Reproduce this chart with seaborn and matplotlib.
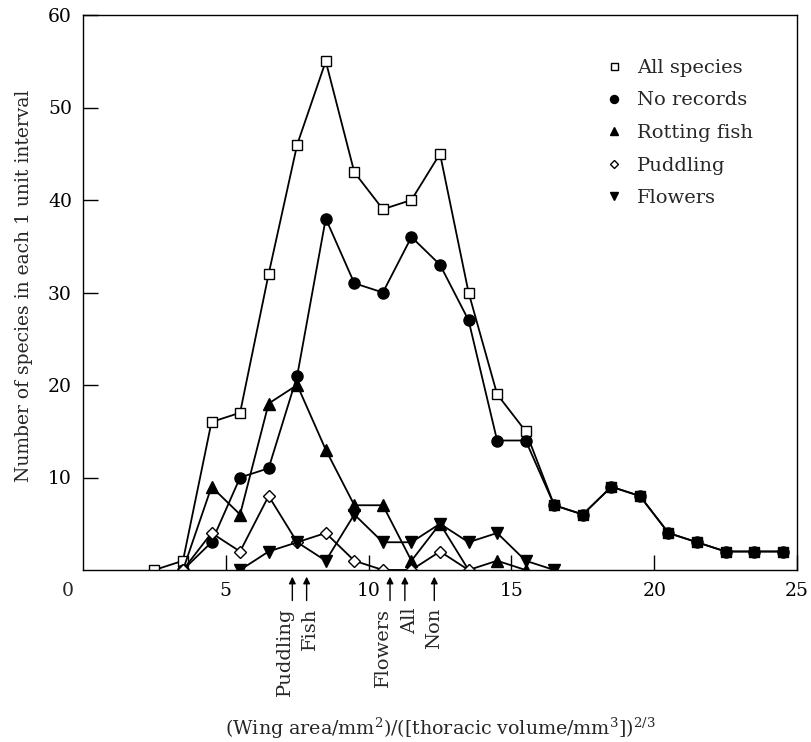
import numpy as np
import pandas as pd
import seaborn as sns
import matplotlib.pyplot as plt
from matplotlib.lines import Line2D

# counts per 1-unit interval, plotted at the interval centres
all_x = np.arange(2.5, 25, 1)
all_species = [0, 1, 16, 17, 32, 46, 55, 43, 39, 40, 45, 30, 19, 15, 7, 6, 9, 8, 4, 3, 2, 2, 2]

none_x = np.arange(3.5, 25, 1)
no_records = [0, 3, 10, 11, 21, 38, 31, 30, 36, 33, 27, 14, 14, 7, 6, 9, 8, 4, 3, 2, 2, 2]

fish_x = np.arange(3.5, 16, 1)
rotting_fish = [0, 9, 6, 18, 20, 13, 7, 7, 1, 5, 0, 1, 0]

puddle_x = np.arange(3.5, 14, 1)
puddling = [0, 4, 2, 8, 3, 4, 1, 0, 0, 2, 0]

flower_x = np.arange(5.5, 17, 1)
flowers = [0, 2, 3, 1, 6, 3, 3, 5, 3, 4, 1, 0]

# mean values marked by arrows under the axis
arrow_labels = ['Puddling', 'Fish', 'Flowers', 'All', 'Non']
arrow_x = [7.33, 7.83, 10.75, 11.27, 12.3]
text_shift = [-0.25, 0.1, -0.25, 0.17, 0.0]

x_ticks = [5, 10, 15, 20, 25]
y_ticks = [10, 20, 30, 40, 50, 60]

sns.set_style('ticks')
plt.rcParams['font.family'] = ['DejaVu Serif']
plt.rcParams['mathtext.fontset'] = 'dejavuserif'
plt.rcParams['axes.edgecolor'] = 'black'
plt.rcParams['axes.linewidth'] = 1.0

fig = plt.figure(figsize=(8.11, 7.42), dpi=100)
ax = fig.add_axes([83 / 811, 1 - 570 / 742, 714 / 811, 555 / 742])

series = [
    ('All species', all_x, all_species, 's', 'white', 7),
    ('No records', none_x, no_records, 'o', 'black', 8),
    ('Rotting fish', fish_x, rotting_fish, '^', 'black', 8.5),
    ('Puddling', puddle_x, puddling, 'D', 'white', 6),
    ('Flowers', flower_x, flowers, 'v', 'black', 8.5),
]

line_kw = dict(color='black', linewidth=1.3, mec='black', mew=1.0)
for name, xs, ys, mk, face, ms in series:
    df = pd.DataFrame({'x': xs, 'y': ys})
    sns.lineplot(data=df, x='x', y='y', ax=ax, marker=mk, mfc=face, ms=ms, **line_kw)

# where "All species" and "No records" coincide the markers print as solid squares
both = pd.merge(pd.DataFrame({'x': all_x, 'a': all_species}),
                pd.DataFrame({'x': none_x, 'n': no_records}), on='x')
both = both[both['a'] == both['n']]
sns.scatterplot(data=both, x='x', y='a', ax=ax, marker='s', color='black', s=52,
                edgecolor='black', zorder=5, legend=False)

ax.set_xlim(0, 25)
ax.set_ylim(0, 60)
ax.set_xticks(x_ticks)
ax.set_yticks(y_ticks)
ax.tick_params(axis='both', direction='in', length=10.5, width=1, labelsize=13.5, colors='black')
ax.tick_params(axis='x', pad=9)
ax.tick_params(axis='y', pad=8)
for s in ax.spines.values():
    s.set_visible(True)
    s.set_color('black')

ax.annotate('0', xy=(0, 0), xytext=(-11, -15), textcoords='offset points',
            ha='center', va='center', fontsize=13.5)

ax.set_ylabel('Number of species in each 1 unit interval', fontsize=13.5)
ax.yaxis.set_label_coords(-0.07, 0.512)
ax.set_xlabel(r'(Wing area/mm$^2$)/([thoracic volume/mm$^3$])$^{2/3}$', fontsize=13.7)
ax.xaxis.set_label_coords(0.5, -0.262)

trans = ax.get_xaxis_transform()
for lab, xa, dx in zip(arrow_labels, arrow_x, text_shift):
    ax.annotate('', xy=(xa, -0.012), xytext=(xa, -0.055), xycoords=trans, textcoords=trans,
                arrowprops=dict(arrowstyle='-|>', color='black', lw=1, mutation_scale=10,
                                shrinkA=0, shrinkB=0))
    ax.text(xa + dx, -0.068, lab, transform=trans, rotation=90, ha='center', va='top',
            fontsize=14)

handles = [Line2D([], [], linestyle='none', marker=mk, mfc=face, mec='black', ms=ms * 0.72)
           for name, xs, ys, mk, face, ms in series]
ax.legend(handles, [s[0] for s in series], loc='upper left', bbox_to_anchor=(0.73, 0.921),
          frameon=False, fontsize=14, handletextpad=0.7, labelspacing=0.75,
          borderaxespad=0, borderpad=0, handlelength=1.0)

fig.savefig('out.png', dpi=100)
